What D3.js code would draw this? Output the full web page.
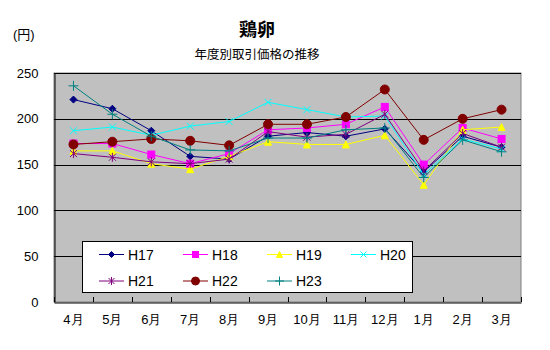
<!DOCTYPE html>
<html>
<head>
<meta charset="utf-8">
<script src="https://cdn.jsdelivr.net/npm/d3@7/dist/d3.min.js"></script>
<style>
  html, body { margin: 0; padding: 0; background: #fff; }
  svg { display: block; font-family: "Liberation Sans", "Noto Sans CJK JP", sans-serif; }
</style>
</head>
<body>
<svg id="chart" width="550" height="350"></svg>
<script>
// 鶏卵 月別取引価格（円）
const months = ["4月", "5月", "6月", "7月", "8月", "9月", "10月", "11月", "12月", "1月", "2月", "3月"];
const seriesNames = ["H17", "H18", "H19", "H20", "H21", "H22", "H23"];
const H17 = [221, 211, 187, 159, 156, 181, 185, 181, 189, 142, 181, 169];
const H18 = [173, 173, 161, 151, 162, 188, 190, 194, 213, 150, 190, 178];
const H19 = [165, 165, 151, 145, 159, 175, 172, 172, 182, 128, 188, 191];
const H20 = [187, 191, 182, 192, 197, 218, 210, 202, 203, 139, 178, 167];
const H21 = [162, 158, 153, 151, 156, 186, 180, 183, 205, 143, 184, 169];
const H22 = [172, 175, 178, 176, 171, 194, 194, 202, 232, 177, 200, 210];
const H23 = [236, 205, 181, 166, 165, 179, 179, 188, 190, 136, 177, 164];
const yTicks = [0, 50, 100, 150, 200, 250];

const seriesValues = [H17, H18, H19, H20, H21, H22, H23];
const colors = ["#000080", "#FF00FF", "#FFFF00", "#00FFFF", "#800080", "#800000", "#008080"];
const markers = ["diamond", "square", "triangle", "x", "asterisk", "circle", "plus"];

const svg = d3.select("#chart");
const plot = { left: 54, right: 521, top: 73, bottom: 302 };

const x = d3.scaleBand().domain(months).range([plot.left, plot.right]);
const y = d3.scaleLinear().domain([0, 250]).range([plot.bottom, plot.top]);

// titles
svg.append("text").attr("x", 257).attr("y", 36).attr("text-anchor", "middle")
  .attr("font-size", 18).attr("font-weight", "bold").text("鶏卵");
svg.append("text").attr("x", 257).attr("y", 59).attr("text-anchor", "middle")
  .attr("font-size", 12.5).text("年度別取引価格の推移");
svg.append("text").attr("x", 13).attr("y", 39).attr("font-size", 13).text("(円)");

// plot background
svg.append("rect").attr("x", plot.left).attr("y", plot.top)
  .attr("width", plot.right - plot.left).attr("height", plot.bottom - plot.top)
  .attr("fill", "#C0C0C0").attr("stroke", "#808080").attr("stroke-width", 1);

// gridlines
svg.append("g").selectAll("line").data(yTicks.filter(d => d > 0 && d < 250)).join("line")
  .attr("x1", plot.left).attr("x2", plot.right)
  .attr("y1", d => Math.round(y(d)) + 0.5).attr("y2", d => Math.round(y(d)) + 0.5)
  .attr("stroke", "#000").attr("stroke-width", 1);
svg.append("line").attr("x1", plot.left).attr("x2", plot.right)
  .attr("y1", plot.top + 0.5).attr("y2", plot.top + 0.5).attr("stroke", "#000");

// y axis
const yAxis = d3.axisLeft(y).tickValues(yTicks).tickSize(0).tickPadding(16);
svg.append("g").attr("transform", `translate(${plot.left + 0.5},0)`).call(yAxis)
  .call(g => g.select(".domain").attr("stroke", "#000"))
  .call(g => g.selectAll("text").attr("font-size", 13).attr("fill", "#000")
    .attr("font-family", "Liberation Sans, sans-serif"));

// x axis with category labels
const xAxis = d3.axisBottom(x).tickSize(0).tickPadding(12);
svg.append("g").attr("transform", `translate(0,${plot.bottom + 0.5})`).call(xAxis)
  .call(g => g.select(".domain").attr("stroke", "#000"))
  .call(g => g.selectAll("text").attr("font-size", 13).attr("fill", "#000"));

// tick marks at category boundaries, pointing into the plot
const boundaries = months.map(m => x(m)).concat([x(months[months.length - 1]) + x.bandwidth()]);
svg.append("g").selectAll("line").data(boundaries).join("line")
  .attr("x1", d => Math.round(d) + 0.5).attr("x2", d => Math.round(d) + 0.5)
  .attr("y1", plot.bottom - 5).attr("y2", plot.bottom)
  .attr("stroke", "#000");

function drawMarker(g, type, color, s) {
  switch (type) {
    case "diamond":
      g.append("path").attr("d", `M0,${-s}L${s},0L0,${s}L${-s},0Z`).attr("fill", color).attr("stroke", color);
      break;
    case "square":
      g.append("rect").attr("x", -s).attr("y", -s).attr("width", 2 * s).attr("height", 2 * s)
        .attr("fill", color).attr("stroke", color);
      break;
    case "triangle":
      g.append("path").attr("d", `M0,${-s}L${s},${s}L${-s},${s}Z`).attr("fill", color).attr("stroke", color);
      break;
    case "x":
      g.append("path").attr("d", `M${-s},${-s}L${s},${s}M${-s},${s}L${s},${-s}`).attr("stroke", color).attr("fill", "none");
      break;
    case "asterisk":
      g.append("path").attr("d", `M${-s},${-s}L${s},${s}M${-s},${s}L${s},${-s}M0,${-s - 1}L0,${s + 1}`)
        .attr("stroke", color).attr("fill", "none");
      break;
    case "circle":
      g.append("circle").attr("r", s + 0.5).attr("fill", color).attr("stroke", color);
      break;
    case "plus":
      g.append("path").attr("d", `M${-s - 1},0L${s + 1},0M0,${-s - 1}L0,${s + 1}`).attr("stroke", color).attr("fill", "none");
      break;
  }
}

const line = d3.line()
  .x((d, i) => x(months[i]) + x.bandwidth() / 2)
  .y(d => y(d));

const sizes = { diamond: 3.5, square: 3.5, triangle: 3.5, x: 3.5, asterisk: 3.5, circle: 4, plus: 4 };

seriesValues.forEach((vals, si) => {
  const g = svg.append("g");
  g.append("path").datum(vals).attr("d", line)
    .attr("fill", "none").attr("stroke", colors[si]).attr("stroke-width", 1);
  vals.forEach((v, i) => {
    const mg = g.append("g")
      .attr("transform", `translate(${x(months[i]) + x.bandwidth() / 2},${y(v)})`);
    drawMarker(mg, markers[si], colors[si], sizes[markers[si]]);
  });
});

// legend
const legend = svg.append("g");
legend.append("rect").attr("x", 82.5).attr("y", 241.5).attr("width", 330).attr("height", 51)
  .attr("fill", "#fff").attr("stroke", "#000").attr("stroke-width", 1);
seriesNames.forEach((name, i) => {
  const col = i % 4, row = Math.floor(i / 4);
  const lx = 99 + col * 84, ly = 254.5 + row * 26.5;
  const lg = legend.append("g");
  lg.append("line").attr("x1", lx).attr("x2", lx + 25).attr("y1", ly).attr("y2", ly)
    .attr("stroke", colors[i]).attr("stroke-width", 1);
  const mg = lg.append("g").attr("transform", `translate(${lx + 12.5},${ly})`);
  drawMarker(mg, markers[i], colors[i], sizes[markers[i]] - 0.5);
  lg.append("text").attr("x", lx + 29).attr("y", ly + 5).attr("font-size", 14).text(name);
});
</script>
</body>
</html>
